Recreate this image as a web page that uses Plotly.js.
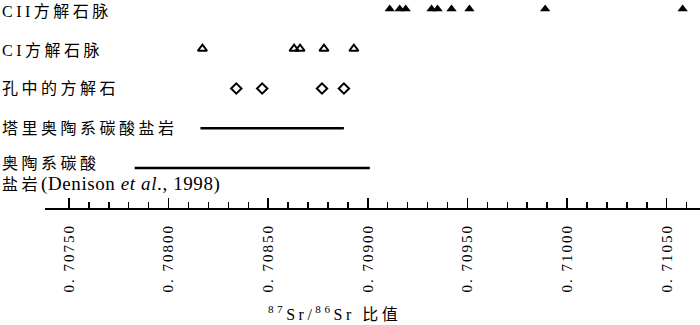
<!DOCTYPE html>
<html><head><meta charset="utf-8">
<script src="https://cdn.plot.ly/plotly-3.0.1.min.js"></script>
<style>
html,body{margin:0;padding:0;background:#fff}
#chart{width:700px;height:325px}
#chart .annotation-text{letter-spacing:3.5px}
#chart .xtick text{letter-spacing:2px}
</style></head><body><div id="chart"></div>
<script>
// Row labels (top to bottom)
const rowLabels = [
  "CII方解石脉",
  "CI方解石脉",
  "孔中的方解石",
  "塔里奥陶系碳酸盐岩",
  "奥陶系碳酸<br>盐岩<span style='letter-spacing:0.6px;font-size:19px'>(Denison <i>et al</i>., 1998)</span>"
];
// 87Sr/86Sr values
const ciiValues = [0.70911, 0.70916, 0.70919, 0.70932, 0.70935, 0.70942, 0.70951, 0.70989, 0.71058];
const ciValues = [0.70817, 0.70863, 0.70866, 0.70878, 0.70893];
const poreValues = [0.70834, 0.70847, 0.70877, 0.70888];
const tarimRange = [0.70816, 0.70888];
const denisonRange = [0.70783, 0.70901];
// Axis ticks
const majorTicks = [0.7075, 0.7080, 0.7085, 0.7090, 0.7095, 0.7100, 0.7105];
const majorLabels = ["0. 70750", "0. 70800", "0. 70850", "0. 70900", "0. 70950", "0. 71000", "0. 71050"];
const minorTicks = [];
for (let k = 1; k <= 31; k++) {
  const v = +(0.7075 + k * 0.0001).toFixed(4);
  if (k % 5 !== 0) minorTicks.push(v);
}

const row = (arr, i) => arr.map(() => i);
const traces = [
  {x: ciiValues, y: row(ciiValues, 0), type: 'scatter', mode: 'markers',
   marker: {symbol: 'triangle-up', size: 9, color: '#000'}},
  {x: ciValues, y: row(ciValues, 1), type: 'scatter', mode: 'markers',
   marker: {symbol: 'triangle-up-open', size: 8, color: '#000', line: {width: 2, color: '#000'}}},
  {x: poreValues, y: row(poreValues, 2), type: 'scatter', mode: 'markers',
   marker: {symbol: 'diamond-open', size: 8, color: '#000', line: {width: 2, color: '#000'}}},
  {x: tarimRange, y: row(tarimRange, 3), type: 'scatter', mode: 'lines',
   line: {color: '#000', width: 2.6}},
  {x: denisonRange, y: row(denisonRange, 4), type: 'scatter', mode: 'lines',
   line: {color: '#000', width: 2.6}}
];

const fontFam = "Liberation Serif, Noto Sans CJK SC, serif";
const annotations = rowLabels.map((t, i) => ({
  text: t, xref: 'paper', yref: 'y', x: -45 / 655, y: i,
  xanchor: 'left', yanchor: 'middle', showarrow: false, align: 'left',
  yshift: i === 0 ? -3 : (i === 1 ? -2 : (i === 4 ? -7 : 0)),
  font: {family: fontFam, size: 16, color: '#000'}
}));
annotations.push({
  text: "<sup>87</sup>Sr/<sup>86</sup>Sr 比值",
  xref: 'paper', yref: 'paper', x: (334 - 45) / 655, y: (208 - 313) / 208,
  xanchor: 'center', yanchor: 'middle', showarrow: false,
  font: {family: fontFam, size: 16, color: '#000'}
});

const layout = {
  width: 700, height: 325,
  margin: {l: 45, r: 0, t: 0, b: 117, pad: 0},
  paper_bgcolor: '#fff', plot_bgcolor: '#fff',
  showlegend: false,
  xaxis: {
    range: [0.70738, 0.710667],
    showline: true, linecolor: '#000', linewidth: 2,
    showgrid: false, zeroline: false,
    ticks: 'inside', ticklen: 10, tickwidth: 1.5, tickcolor: '#000',
    tickmode: 'array', tickvals: majorTicks, ticktext: majorLabels,
    tickangle: -90, ticklabelstandoff: 8,
    tickfont: {family: "Liberation Serif, serif", size: 15, color: '#000'},
    minor: {tickmode: 'array', tickvals: minorTicks, ticks: 'inside', ticklen: 6,
            tickwidth: 1.5, tickcolor: '#000', showgrid: false}
  },
  yaxis: {
    range: [5.006, -0.226], visible: false, showgrid: false, zeroline: false
  },
  annotations: annotations
};

Plotly.newPlot('chart', traces, layout, {displayModeBar: false, staticPlot: true});
</script></body></html>
